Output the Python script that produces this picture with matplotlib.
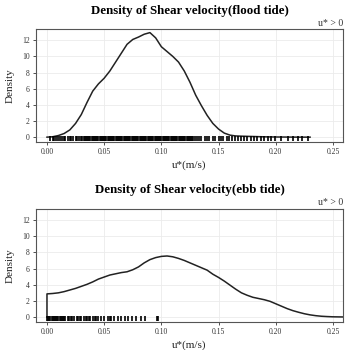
import numpy as np
import matplotlib
matplotlib.use('Agg')
import matplotlib.pyplot as plt

plt.rcParams['font.family'] = ['Liberation Serif', 'DejaVu Serif']

# flood tide density curve
flood_u = [0.000, 0.005, 0.010, 0.015, 0.020, 0.025, 0.030, 0.035, 0.040, 0.045,
           0.050, 0.055, 0.060, 0.065, 0.070, 0.075, 0.080, 0.085, 0.090, 0.095,
           0.100, 0.105, 0.110, 0.115, 0.120, 0.125, 0.130, 0.135, 0.140, 0.145,
           0.150, 0.155, 0.160, 0.165, 0.170, 0.175, 0.180, 0.185, 0.190, 0.200,
           0.210, 0.220, 0.230]
flood_d = [0.0, 0.05, 0.2, 0.45, 0.9, 1.7, 2.8, 4.3, 5.7, 6.6,
           7.3, 8.2, 9.3, 10.4, 11.5, 12.1, 12.4, 12.75, 12.95, 12.3,
           11.2, 10.6, 10.0, 9.3, 8.2, 6.8, 5.2, 3.9, 2.7, 1.7,
           1.0, 0.5, 0.25, 0.15, 0.12, 0.1, 0.08, 0.06, 0.04, 0.02,
           0.01, 0.0, 0.0]

# ebb tide density curve
ebb_u = [0.000, 0.000, 0.005, 0.010, 0.015, 0.020, 0.025, 0.030, 0.035, 0.040,
         0.045, 0.050, 0.055, 0.060, 0.065, 0.070, 0.075, 0.080, 0.085, 0.090,
         0.095, 0.100, 0.105, 0.110, 0.115, 0.120, 0.125, 0.130, 0.135, 0.140,
         0.145, 0.150, 0.155, 0.160, 0.165, 0.170, 0.175, 0.180, 0.185, 0.190,
         0.195, 0.200, 0.205, 0.210, 0.215, 0.220, 0.225, 0.230, 0.235, 0.240,
         0.245, 0.250, 0.260]
ebb_d = [0.0, 2.87, 2.92, 3.0, 3.15, 3.35, 3.55, 3.8, 4.05, 4.35,
         4.7, 4.95, 5.2, 5.35, 5.5, 5.6, 5.85, 6.2, 6.7, 7.1,
         7.35, 7.5, 7.55, 7.45, 7.25, 7.0, 6.7, 6.4, 6.1, 5.8,
         5.3, 4.9, 4.45, 3.95, 3.45, 3.0, 2.7, 2.45, 2.3, 2.15,
         1.95, 1.65, 1.35, 1.05, 0.8, 0.6, 0.42, 0.28, 0.18, 0.11,
         0.07, 0.04, 0.02]

# rug positions
flood_rug = [0.003, 0.005, 0.006, 0.008, 0.010, 0.011, 0.013, 0.015, 0.016, 0.018,
             0.020, 0.021, 0.023, 0.025, 0.026, 0.028, 0.030, 0.031, 0.032, 0.033,
             0.034, 0.035, 0.036, 0.037, 0.038, 0.039, 0.040, 0.041, 0.042, 0.043,
             0.044, 0.045, 0.046, 0.047, 0.048, 0.049, 0.050, 0.051, 0.052, 0.053,
             0.054, 0.055, 0.056, 0.057, 0.058, 0.059, 0.060, 0.061, 0.062, 0.063,
             0.064, 0.065, 0.066, 0.067, 0.068, 0.069, 0.070, 0.071, 0.072, 0.073,
             0.074, 0.075, 0.076, 0.077, 0.078, 0.079, 0.080, 0.081, 0.082, 0.083,
             0.084, 0.085, 0.086, 0.087, 0.088, 0.089, 0.090, 0.091, 0.092, 0.093,
             0.094, 0.095, 0.096, 0.097, 0.098, 0.099, 0.100, 0.101, 0.102, 0.103,
             0.104, 0.105, 0.106, 0.107, 0.108, 0.109, 0.110, 0.111, 0.112, 0.113,
             0.114, 0.115, 0.116, 0.117, 0.118, 0.119, 0.120, 0.121, 0.122, 0.123,
             0.124, 0.125, 0.126, 0.127, 0.128, 0.129, 0.131, 0.133, 0.135, 0.138,
             0.140, 0.142, 0.145, 0.147, 0.150, 0.152, 0.154, 0.157, 0.159, 0.162,
             0.164, 0.167, 0.170, 0.172, 0.175, 0.178, 0.181, 0.184, 0.187, 0.190,
             0.193, 0.196, 0.199, 0.205, 0.211, 0.215, 0.219, 0.223, 0.228]
ebb_rug = [0.000, 0.001, 0.002, 0.003, 0.004, 0.005, 0.006, 0.007, 0.008, 0.009,
           0.010, 0.011, 0.012, 0.013, 0.014, 0.015, 0.016, 0.018, 0.019, 0.021,
           0.022, 0.024, 0.026, 0.027, 0.029, 0.030, 0.032, 0.034, 0.035, 0.037,
           0.038, 0.040, 0.042, 0.043, 0.045, 0.047, 0.050, 0.053, 0.055, 0.056,
           0.059, 0.062, 0.065, 0.068, 0.071, 0.074, 0.078, 0.082, 0.086, 0.096,
           0.097]

x_ticks = [0.00, 0.05, 0.10, 0.15, 0.20, 0.25]
y_ticks = [0, 2, 4, 6, 8, 10, 12]

panels = [
    ('Density of Shear velocity(flood tide)', flood_u, flood_d, flood_rug),
    ('Density of Shear velocity(ebb tide)', ebb_u, ebb_d, ebb_rug),
]
axes_pos = [[0.1034, 0.5943, 0.882, 0.3229],
            [0.1034, 0.0800, 0.882, 0.3240]]

fig = plt.figure(figsize=(3.48, 3.5), dpi=100)

for (title, u, d, rug), pos in zip(panels, axes_pos):
    ax = fig.add_axes(pos)
    ax.plot(u, d, color='#222222', linewidth=1.1)
    ax.vlines(rug, -0.5, 0.1, color='black', linewidth=1.2)

    ax.set_xlim(-0.0096, 0.2587)
    ax.set_ylim(-0.6, 13.4)
    ax.set_xticks(x_ticks)
    ax.set_xticklabels([f'{t:.2f}' for t in x_ticks])
    ax.set_yticks(y_ticks)
    ax.grid(True, color='#ebebeb', linewidth=0.6)
    ax.set_axisbelow(True)
    ax.tick_params(axis='both', labelsize=5.5, colors='#333333', length=2.5,
                   width=0.6, pad=2)
    for sp in ax.spines.values():
        sp.set_color('#555555')
        sp.set_linewidth(0.8)

    ax.set_title(title, fontsize=9.3, fontweight='bold', pad=11)
    ax.text(1.0, 1.01, 'u* > 0', transform=ax.transAxes, ha='right', va='bottom',
            fontsize=7, color='#333333')
    ax.set_ylabel('Density', fontsize=8, labelpad=5, color='#222222')
    ax.set_xlabel('u*(m/s)', fontsize=8, labelpad=3, color='#222222')

fig.savefig('out.png', dpi=100)
